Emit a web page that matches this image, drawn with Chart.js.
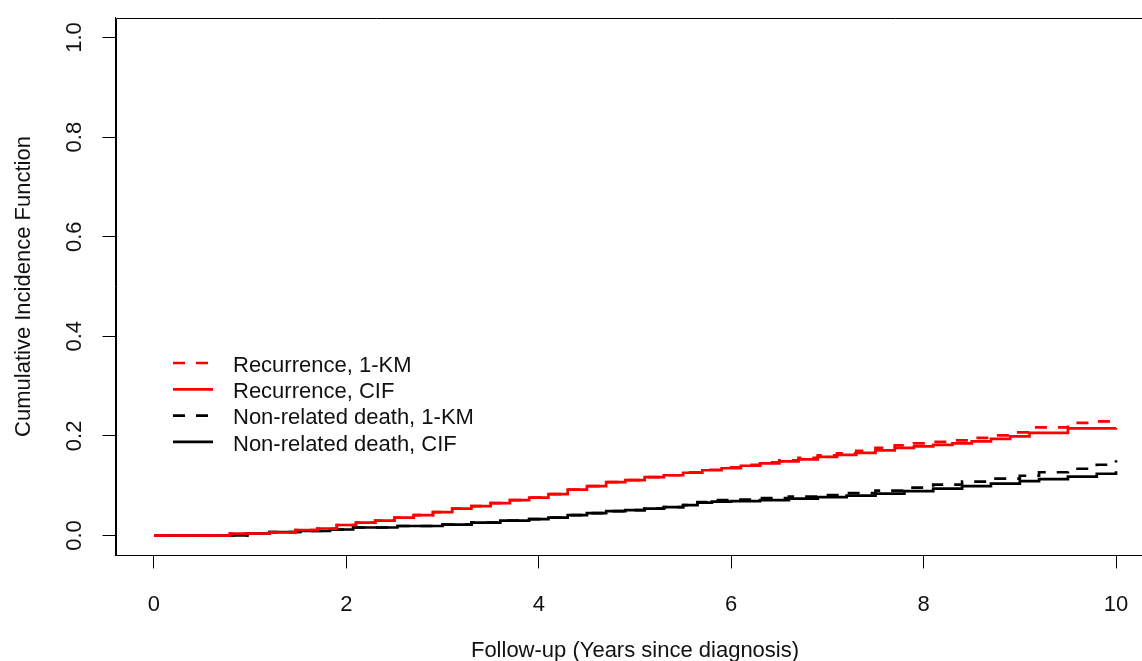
<!DOCTYPE html>
<html>
<head>
<meta charset="utf-8">
<script src="https://cdn.jsdelivr.net/npm/chart.js@4.4.1/dist/chart.umd.min.js"></script>
<style>
  html, body { margin: 0; padding: 0; background: #ffffff; overflow: hidden; width: 1142px; height: 661px; }
  #wrap { position: relative; width: 1160px; height: 661px; }
</style>
</head>
<body>
<div id="wrap"><canvas id="c" width="1160" height="661"></canvas></div>
<script>
// Axis ticks and titles
const xTickValues = [0, 2, 4, 6, 8, 10];
const xTickLabels = ['0', '2', '4', '6', '8', '10'];
const yTickValues = [0, 0.2, 0.4, 0.6, 0.8, 1.0];
const yTickLabels = ['0.0', '0.2', '0.4', '0.6', '0.8', '1.0'];
const xTitle = 'Follow-up (Years since diagnosis)';
const yTitle = 'Cumulative Incidence Function';

// Legend entries, in drawing order
const seriesNames = ['Recurrence, 1-KM', 'Recurrence, CIF', 'Non-related death, 1-KM', 'Non-related death, CIF'];

// Recurrence, 1-KM (step function: time of each step, value after it)
const recKmTime  = [0, 0.79, 1.2, 1.47, 1.7, 1.9, 2.1, 2.3, 2.5, 2.7, 2.9, 3.1, 3.3, 3.5, 3.7, 3.9, 4.1, 4.3, 4.5, 4.7, 4.9, 5.1, 5.3, 5.5, 5.7, 5.9, 6.1, 6.3, 6.5, 6.7, 6.9, 7.1, 7.3, 7.5, 7.7, 7.9, 8.1, 8.3, 8.5, 8.7, 8.9, 9.1, 9.5, 9.8, 10.0];
const recKmValue = [0, 0.004, 0.006, 0.011, 0.014, 0.021, 0.026, 0.030, 0.036, 0.041, 0.047, 0.054, 0.059, 0.065, 0.071, 0.076, 0.083, 0.092, 0.099, 0.107, 0.111, 0.117, 0.121, 0.127, 0.132, 0.137, 0.142, 0.147, 0.151, 0.156, 0.161, 0.165, 0.170, 0.176, 0.181, 0.185, 0.188, 0.191, 0.196, 0.201, 0.207, 0.217, 0.226, 0.229, 0.231];

// Recurrence, CIF
const recCifTime  = [0, 0.79, 1.2, 1.47, 1.7, 1.9, 2.1, 2.3, 2.5, 2.7, 2.9, 3.1, 3.3, 3.5, 3.7, 3.9, 4.1, 4.3, 4.5, 4.7, 4.9, 5.1, 5.3, 5.5, 5.7, 5.9, 6.1, 6.3, 6.5, 6.7, 6.9, 7.1, 7.3, 7.5, 7.7, 7.9, 8.1, 8.3, 8.5, 8.7, 8.9, 9.1, 9.5, 10.0];
const recCifValue = [0, 0.004, 0.006, 0.011, 0.014, 0.021, 0.026, 0.030, 0.036, 0.041, 0.047, 0.054, 0.059, 0.065, 0.071, 0.076, 0.083, 0.092, 0.099, 0.107, 0.111, 0.117, 0.121, 0.126, 0.131, 0.135, 0.140, 0.145, 0.149, 0.153, 0.158, 0.162, 0.166, 0.171, 0.176, 0.179, 0.182, 0.185, 0.189, 0.194, 0.199, 0.206, 0.215, 0.216];

// Non-related death, 1-KM
const deathKmTime  = [0, 0.97, 1.2, 1.52, 1.83, 2.07, 2.53, 3.0, 3.3, 3.6, 3.9, 4.1, 4.3, 4.5, 4.7, 4.9, 5.1, 5.3, 5.5, 5.65, 5.8, 6.0, 6.3, 6.6, 6.9, 7.2, 7.5, 7.8, 8.1, 8.4, 8.7, 9.0, 9.2, 9.5, 9.8, 10.0];
const deathKmValue = [0, 0.004, 0.007, 0.009, 0.012, 0.016, 0.019, 0.022, 0.026, 0.030, 0.033, 0.036, 0.041, 0.045, 0.049, 0.051, 0.054, 0.057, 0.061, 0.067, 0.071, 0.072, 0.075, 0.078, 0.081, 0.085, 0.090, 0.096, 0.102, 0.108, 0.114, 0.120, 0.127, 0.134, 0.142, 0.151];

// Non-related death, CIF
const deathCifTime  = [0, 0.97, 1.2, 1.52, 1.83, 2.07, 2.53, 3.0, 3.3, 3.6, 3.9, 4.1, 4.3, 4.5, 4.7, 4.9, 5.1, 5.3, 5.5, 5.65, 5.8, 6.0, 6.3, 6.6, 6.9, 7.2, 7.5, 7.8, 8.1, 8.4, 8.7, 9.0, 9.2, 9.5, 9.8, 10.0];
const deathCifValue = [0, 0.004, 0.007, 0.009, 0.012, 0.016, 0.019, 0.022, 0.026, 0.030, 0.033, 0.036, 0.041, 0.045, 0.049, 0.051, 0.054, 0.057, 0.061, 0.066, 0.068, 0.069, 0.071, 0.074, 0.077, 0.080, 0.084, 0.089, 0.094, 0.099, 0.104, 0.109, 0.113, 0.118, 0.124, 0.129];

const FONT = "'Liberation Sans', Arial, sans-serif";
const FONT_SIZE = 22;
const DASH = [12, 11];
const LINE_W = 2.7;

function toPoints(times, values) {
  return times.map((t, i) => ({ x: t, y: values[i] }));
}

function series(label, times, values, color, dashed) {
  return {
    label: label,
    data: toPoints(times, values),
    borderColor: color,
    backgroundColor: color,
    borderWidth: LINE_W,
    borderDash: dashed ? DASH : [],
    borderCapStyle: 'butt',
    borderJoinStyle: 'miter',
    stepped: 'before',
    pointRadius: 0,
    fill: false,
    tension: 0
  };
}

// Frame box, axis labels, titles and legend in base-graphics style
const framePlugin = {
  id: 'frame',
  afterDraw(chart) {
    const ctx = chart.ctx;
    const a = chart.chartArea;
    const xs = chart.scales.x;
    const ys = chart.scales.y;
    ctx.save();
    ctx.strokeStyle = '#000';
    ctx.lineWidth = 1;
    ctx.beginPath();
    ctx.rect(Math.round(a.left) + 0.5, Math.round(a.top) + 0.5,
             Math.round(a.right) - Math.round(a.left), Math.round(a.bottom) - Math.round(a.top));
    ctx.stroke();

    ctx.fillStyle = '#111';
    ctx.font = FONT_SIZE + 'px ' + FONT;

    // x tick labels
    ctx.textAlign = 'center';
    ctx.textBaseline = 'middle';
    xTickValues.forEach((v, i) => {
      ctx.fillText(xTickLabels[i], xs.getPixelForValue(v), 605);
    });
    // x title
    ctx.fillText(xTitle, (xs.getPixelForValue(0) + xs.getPixelForValue(10)) / 2, 651);

    // y tick labels, rotated
    yTickValues.forEach((v, i) => {
      ctx.save();
      ctx.translate(75, ys.getPixelForValue(v));
      ctx.rotate(-Math.PI / 2);
      ctx.fillText(yTickLabels[i], 0, 0);
      ctx.restore();
    });
    // y title
    ctx.save();
    ctx.translate(24, (a.top + a.bottom) / 2);
    ctx.rotate(-Math.PI / 2);
    ctx.fillText(yTitle, 0, 0);
    ctx.restore();

    // legend
    const rowY = [363, 389.3, 415.6, 441.9];
    ctx.textAlign = 'left';
    ctx.textBaseline = 'alphabetic';
    chart.data.datasets.forEach((ds, i) => {
      const y = rowY[i];
      ctx.save();
      ctx.strokeStyle = ds.borderColor;
      ctx.lineWidth = ds.borderWidth;
      ctx.lineCap = 'butt';
      ctx.setLineDash(ds.borderDash);
      ctx.beginPath();
      ctx.moveTo(173, y);
      ctx.lineTo(213, y);
      ctx.stroke();
      ctx.restore();
      ctx.fillText(seriesNames[i], 233, y + 0.716 * FONT_SIZE / 2 + 1);
    });
    ctx.restore();
  }
};

new Chart(document.getElementById('c'), {
  type: 'line',
  data: {
    datasets: [
      series(seriesNames[0], recKmTime, recKmValue, '#ff0000', true),
      series(seriesNames[1], recCifTime, recCifValue, '#ff0000', false),
      series(seriesNames[2], deathKmTime, deathKmValue, '#000000', true),
      series(seriesNames[3], deathCifTime, deathCifValue, '#000000', false)
    ]
  },
  options: {
    responsive: false,
    animation: false,
    devicePixelRatio: 1,
    layout: { padding: { top: 17.6, right: 5.5, left: 0, bottom: 0 } },
    plugins: { legend: { display: false }, tooltip: { enabled: false } },
    scales: {
      x: {
        type: 'linear',
        min: -0.4,
        max: 10.4,
        afterBuildTicks: s => { s.ticks = xTickValues.map(v => ({ value: v })); },
        afterFit: s => { s.height = 105.6; },
        ticks: { display: false },
        grid: { display: true, drawOnChartArea: false, drawTicks: true, tickLength: 13, color: '#000', lineWidth: 1 },
        border: { display: true, color: '#000', width: 1 }
      },
      y: {
        type: 'linear',
        min: -0.04,
        max: 1.04,
        afterBuildTicks: s => { s.ticks = yTickValues.map(v => ({ value: v })); },
        afterFit: s => { s.width = 115.5; },
        ticks: { display: false },
        grid: { display: true, drawOnChartArea: false, drawTicks: true, tickLength: 13, color: '#000', lineWidth: 1 },
        border: { display: true, color: '#000', width: 1 }
      }
    }
  },
  plugins: [framePlugin]
});
</script>
</body>
</html>
